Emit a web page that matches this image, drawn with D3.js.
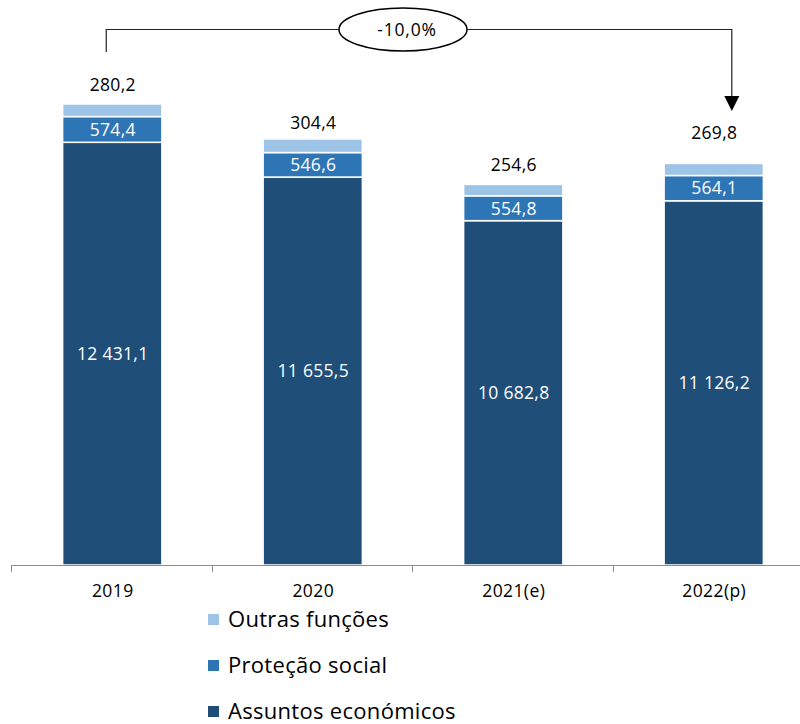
<!DOCTYPE html>
<html>
<head>
<meta charset="utf-8">
<script src="https://cdn.jsdelivr.net/npm/d3@7"></script>
<style>
  body { margin: 0; background: #fff; }
  svg { display: block; font-family: "Open Sans", sans-serif; }
</style>
</head>
<body>
<svg id="chart" width="800" height="724"></svg>
<script>
'use strict';

// data
var years = ["2019", "2020", "2021(e)", "2022(p)"];
var economicos = [12431.1, 11655.5, 10682.8, 11126.2];
var protecao = [574.4, 546.6, 554.8, 564.1];
var outras = [280.2, 304.4, 254.6, 269.8];
var seriesNames = ["Assuntos económicos", "Proteção social", "Outras funções"];
var seriesColors = ["#1F4E79", "#2E75B6", "#9DC3E6"];
var variation = "-10,0%";

// label lift for the top labels (manual placement in the original)
var topLift = [19, 16, 20, 31];

var svg = d3.select("#chart");
var fmt = function(v) {
  var s = v.toFixed(1).replace(".", ",");
  var parts = s.split(",");
  parts[0] = parts[0].replace(/\B(?=(\d{3})+(?!\d))/g, " ");
  return parts.join(",");
};

var rows = years.map(function(y, i) {
  return { year: y, economicos: economicos[i], protecao: protecao[i], outras: outras[i] };
});

var stack = d3.stack().keys(["economicos", "protecao", "outras"]);
var layers = stack(rows);

var x = d3.scaleBand().domain(years).range([11, 813]).paddingInner(0.5).paddingOuter(0.25);
var y = d3.scaleLinear().domain([3000, 14000]).range([565, 72]);

// clip values below axis minimum
var yc = function(v) { return y(Math.max(v, 3000)); };

//
// bars
//
var g = svg.append("g");
layers.forEach(function(layer, li) {
  g.selectAll(".seg" + li)
    .data(layer)
    .enter()
    .append("rect")
    .attr("x", function(d) { return x(d.data.year) + 1.5; })
    .attr("width", x.bandwidth() - 1)
    .attr("y", function(d) { return yc(d[1]); })
    .attr("height", function(d) { return yc(d[0]) - yc(d[1]); })
    .attr("fill", seriesColors[li])
    .attr("stroke", "#fff")
    .attr("stroke-width", 1.5);
});

//
// labels inside bars
//
[0, 1].forEach(function(li) {
  g.selectAll(".lab" + li)
    .data(layers[li])
    .enter()
    .append("text")
    .attr("x", function(d) { return x(d.data.year) + x.bandwidth() / 2 + 1.5; })
    .attr("y", function(d) { return (yc(d[0]) + yc(d[1])) / 2; })
    .attr("dy", "0.36em")
    .attr("text-anchor", "middle")
    .attr("font-size", 17.5)
    .attr("letter-spacing", 0.3)
    .attr("fill", "#fff")
    .text(function(d) { return fmt(d[1] - d[0]); });
});

// labels above bars
g.selectAll(".labtop")
  .data(layers[2])
  .enter()
  .append("text")
  .attr("x", function(d) { return x(d.data.year) + x.bandwidth() / 2 + 1.5; })
  .attr("y", function(d, i) { return yc(d[1]) - topLift[i]; })
  .attr("dy", "0.36em")
  .attr("text-anchor", "middle")
  .attr("font-size", 17.5)
  .attr("letter-spacing", 0.3)
  .attr("fill", "#000")
  .text(function(d) { return fmt(d[1] - d[0]); });

//
// x axis
//
var axisG = svg.append("g");
axisG.append("line")
  .attr("x1", 11).attr("x2", 800)
  .attr("y1", 565.5).attr("y2", 565.5)
  .attr("stroke", "#8c8c8c").attr("stroke-width", 1);
axisG.selectAll(".tick")
  .data(years)
  .enter()
  .append("line")
  .attr("x1", function(d) { return Math.round(x(d) - x.step() * 0.25) + 0.5; })
  .attr("x2", function(d) { return Math.round(x(d) - x.step() * 0.25) + 0.5; })
  .attr("y1", 565).attr("y2", 572)
  .attr("stroke", "#8c8c8c");
axisG.selectAll(".lbl")
  .data(years)
  .enter()
  .append("text")
  .attr("x", function(d) { return x(d) + x.bandwidth() / 2 + 1.5; })
  .attr("y", 591)
  .attr("dy", "0.36em")
  .attr("text-anchor", "middle")
  .attr("font-size", 17.5)
  .attr("letter-spacing", 0.4)
  .attr("fill", "#000")
  .text(function(d) { return d; });

//
// variation bracket
//
var lx = x(years[0]) + x.bandwidth() * 0.45;
var rx = x(years[3]) + x.bandwidth() * 0.69;
var by = 29.5;
var br = svg.append("g");
br.append("path")
  .attr("d", "M" + lx + ",52L" + lx + "," + by + "L" + rx + "," + by + "L" + rx + ",97")
  .attr("fill", "none")
  .attr("stroke", "#222")
  .attr("stroke-width", 1.2);
br.append("path")
  .attr("d", "M" + (rx - 7.5) + ",96L" + (rx + 7.5) + ",96L" + rx + ",111Z")
  .attr("fill", "#000");
br.append("ellipse")
  .attr("cx", 403).attr("cy", by)
  .attr("rx", 64).attr("ry", 21.5)
  .attr("fill", "#fff")
  .attr("stroke", "#000")
  .attr("stroke-width", 1.5);
br.append("text")
  .attr("x", 407).attr("y", by)
  .attr("dy", "0.36em")
  .attr("text-anchor", "middle")
  .attr("font-size", 17.5)
  .attr("letter-spacing", 0.8)
  .text(variation);

//
// legend
//
var legendOrder = [2, 1, 0];
var leg = svg.append("g");
legendOrder.forEach(function(si, k) {
  var ly = 619 + k * 46;
  leg.append("rect")
    .attr("x", 208).attr("y", ly - 5)
    .attr("width", 11).attr("height", 11)
    .attr("fill", seriesColors[si]);
  leg.append("text")
    .attr("x", 228).attr("y", ly)
    .attr("dy", "0.36em")
    .attr("font-size", 22)
    .attr("letter-spacing", 0.3)
    .attr("fill", "#000")
    .text(seriesNames[si]);
});
</script>
</body>
</html>
